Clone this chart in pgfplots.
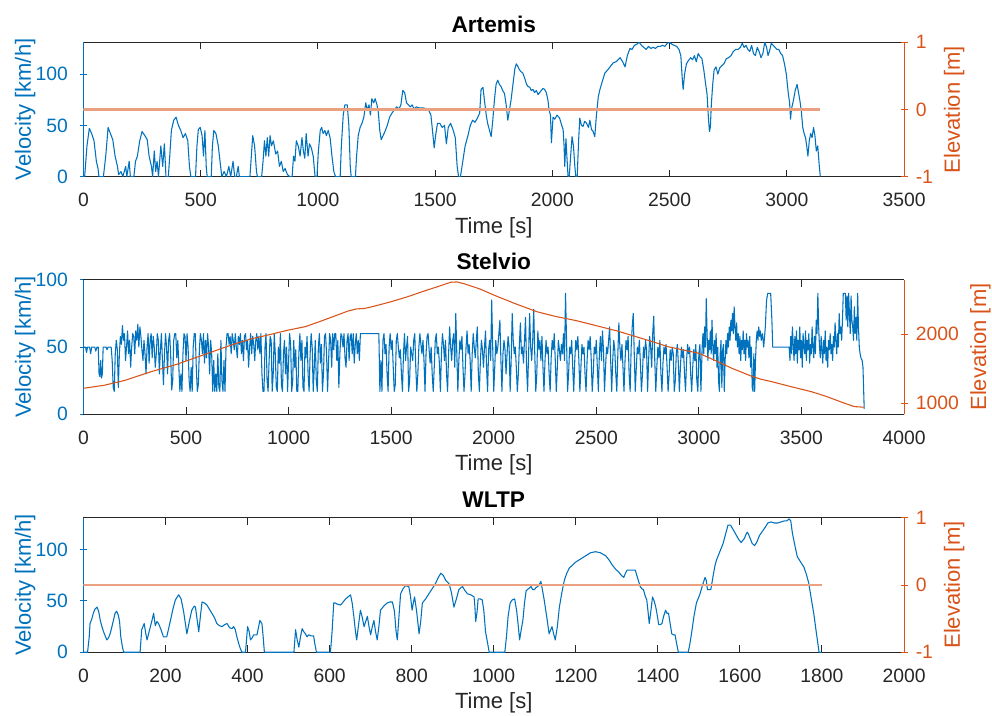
\documentclass[border=0pt]{standalone}
\usepackage{pgfplots}
\pgfplotsset{compat=1.18}
\usepackage{fontspec}
\setmainfont{Liberation Sans}
\definecolor{mblue}{rgb}{0,0.447,0.741}
\definecolor{morange}{rgb}{0.85,0.325,0.098}
\definecolor{mgray}{rgb}{0.15,0.15,0.15}
\newcommand{\tickfont}{\fontsize{14.5}{17}\selectfont}
\newcommand{\labfont}{\fontsize{16.5}{19}\selectfont}
\newcommand{\titfont}{\fontsize{17}{20}\selectfont\bfseries}
\pgfplotsset{
 common/.style={scale only axis, width=615.4pt, height=100.8pt, anchor=south west,
  tick align=inside, major tick length=5.25pt, scaled ticks=false,
  /pgf/number format/1000 sep={}, /pgf/number format/assume math mode=true, xmin=0},
 leftax/.style={common,
  axis x line=box, axis y line=left,
  x axis line style={-,draw=mgray,line width=0.75pt},
  y axis line style={-,draw=mblue,line width=0.75pt},
  xtick style={draw=mgray,line width=0.75pt}, ytick style={draw=mblue,line width=0.75pt},
  xticklabel style={font=\tickfont, text=mgray, anchor=base, inner sep=0pt, yshift=-22.5pt},
  yticklabel style={font=\tickfont, text=mblue, anchor=east, inner sep=0pt, xshift=-8.8pt},
  xlabel={Time [s]}, ylabel={Velocity [km/h]},
  every axis x label/.style={at={(axis description cs:0.5,0)}, anchor=base, yshift=-42.5pt, font=\labfont, text=mgray},
  every axis y label/.style={at={(axis description cs:-0.064,0.5)}, rotate=90, anchor=base, font=\labfont, text=mblue},
  every axis title shift=0pt,
  title style={at={(axis description cs:0.5,1)}, anchor=base, yshift=7.5pt, font=\titfont, text=black},
  ymin=0},
 rightax/.style={common,
  axis x line=none, axis y line=right,
  y axis line style={-,draw=morange,line width=0.75pt},
  ytick style={draw=morange,line width=0.75pt},
  yticklabel style={font=\tickfont, text=morange, anchor=west, inner sep=0pt, xshift=6pt},
  ylabel={Elevation [m]},
  every axis y label/.style={at={(axis description cs:#1,0.5)}, rotate=90, anchor=base, font=\labfont, text=morange}},
 vel/.style={mblue, line width=0.8pt, line join=round},
}
\begin{document}
\begin{tikzpicture}
\useasboundingbox (0,0) rectangle (744pt,537pt);
% ---------------- Artemis
\begin{axis}[leftax, at={(62.6pt,404.5pt)}, xmax=3500, ymax=131, xtick={0,500,...,3500}, ytick={0,50,100}, title={Artemis}]
\addplot[vel] table {
t v
0 0
5 0
15 30
25 47
35 42
45 35
55 15
62 8
66 0
85 0
95 20
105 48
115 42
125 36
135 20
145 10
150 2
160 5
168 0
180 10
185 0
195 15
200 0
215 0
222 15
230 20
240 35
250 44
262 40
272 36
280 20
290 10
295 0
302 25
308 5
314 15
320 0
330 30
338 10
345 32
352 0
362 0
368 20
375 45
385 55
395 58
405 50
415 45
425 38
435 42
445 35
452 10
458 0
478 0
484 30
490 46
498 48
506 40
512 20
518 45
524 8
528 0
545 0
550 30
556 45
565 42
575 30
585 10
590 0
600 5
610 0
620 10
628 0
638 15
645 0
652 0
660 10
665 0
710 0
716 20
722 40
730 30
738 5
742 0
760 0
766 15
772 35
778 20
784 38
790 20
796 40
802 30
810 35
820 22
828 25
836 10
844 15
852 5
860 8
870 2
880 0
890 0
896 20
902 15
908 35
916 30
924 20
932 38
938 25
944 18
950 42
958 20
964 32
972 28
980 20
988 0
996 0
1002 25
1010 45
1016 48
1022 42
1030 45
1036 40
1044 45
1052 38
1060 20
1068 5
1075 0
1095 0
1100 30
1108 60
1115 70
1125 70
1132 50
1138 10
1142 0
1160 0
1165 20
1172 40
1180 48
1188 52
1196 58
1204 72
1210 65
1218 70
1224 60
1230 76
1238 72
1244 76
1252 70
1258 62
1264 45
1270 36
1278 40
1286 44
1296 50
1306 58
1316 62
1326 65
1336 68
1346 66
1354 70
1362 84
1370 82
1378 72
1386 70
1394 68
1402 70
1410 66
1420 68
1430 67
1450 67
1470 66
1482 60
1490 42
1496 28
1502 40
1510 52
1520 52
1530 48
1540 50
1548 32
1556 48
1566 52
1576 46
1586 38
1594 10
1600 0
1608 0
1618 15
1628 30
1640 40
1650 50
1660 55
1670 53
1680 57
1690 62
1696 85
1704 87
1710 75
1718 60
1724 52
1732 45
1739 39
1746 55
1753 75
1760 90
1767 94
1774 90
1781 88
1788 84
1796 81
1803 70
1810 55
1817 65
1824 75
1832 90
1840 105
1846 110
1852 108
1860 104
1868 102
1874 101
1882 96
1890 90
1896 88
1904 87
1910 84
1917 85
1924 82
1932 84
1939 80
1946 82
1953 84
1960 86
1967 85
1974 82
1981 75
1986 65
1992 60
1996 33
2003 58
2010 56
2020 60
2031 57
2040 50
2046 46
2050 30
2053 10
2058 37
2062 20
2067 0
2072 0
2078 20
2084 39
2090 30
2096 10
2100 0
2106 0
2112 35
2117 57
2124 50
2131 49
2138 54
2146 52
2154 48
2160 55
2167 46
2174 44
2181 39
2188 60
2196 78
2203 85
2212 92
2224 101
2236 104
2246 107
2260 111
2272 112
2289 116
2300 112
2310 107
2320 118
2331 125
2340 124
2350 128
2360 129
2370 131
2380 128
2390 126
2400 124
2410 127
2420 125
2430 126
2440 125
2450 127
2460 127
2470 128
2480 127
2490 130
2500 131
2510 129
2520 128
2530 127
2540 124
2548 118
2554 96
2558 85
2564 100
2572 110
2580 113
2590 116
2598 114
2606 118
2614 112
2622 120
2630 117
2638 115
2646 104
2654 90
2660 80
2665 60
2670 44
2674 48
2678 70
2684 90
2690 104
2698 107
2706 100
2714 106
2722 108
2732 110
2742 115
2752 116
2762 118
2772 122
2782 124
2792 124
2802 126
2810 130
2818 126
2826 128
2834 124
2842 122
2850 128
2858 120
2866 118
2874 126
2882 122
2890 116
2898 120
2906 131
2914 126
2920 118
2926 122
2934 130
2942 128
2950 126
2958 124
2966 124
2974 120
2982 118
2990 110
2998 100
3006 82
3012 72
3016 56
3020 66
3028 74
3036 84
3044 90
3050 82
3056 74
3062 64
3068 48
3074 42
3080 38
3086 28
3090 20
3096 35
3102 42
3108 38
3114 48
3120 40
3126 25
3132 30
3138 12
3143 0
};
\end{axis}
\begin{axis}[rightax=1.068, at={(62.6pt,404.5pt)}, xmax=3500, ymin=-1, ymax=1, ytick={-1,0,1}]
\addplot[morange!55!white, line width=1.7pt] table {
t e
0 0
3143 0
};
\end{axis}
% ---------------- Stelvio
\begin{axis}[leftax, at={(62.6pt,226.3pt)}, xmax=4000, ymax=100, xtick={0,500,...,4000}, ytick={0,50,100}, title={Stelvio}]
\addplot[vel] table {
t v
0 50
10 50
15 46
20 50
30 50
35 45
40 50
55 50
60 47
66 50
72 50
76 30
80 28
84 40
88 27
92 30
96 50
110 50
115 48
120 50
135 50
140 40
145 20
150 17
155 45
160 55
165 48
170 20
175 45
180 58
185 52
190 66
195 55
200 60
205 40
210 50
215 62
220 45
225 55
230 35
235 50
240 60
245 58
250 45
255 62
260 55
265 67
270 50
275 65
280 58
285 48
290 40
295 55
300 45
305 30
310 50
315 60
320 38
325 55
330 60
335 42
340 58
345 50
350 35
355 45
360 60
365 55
370 30
375 48
380 60
385 40
390 22
395 45
400 60
405 50
410 30
415 55
420 60
425 45
430 18
435 25
440 55
445 60
450 60
455 42
460 55
465 35
470 17
475 30
480 17
485 45
490 60
495 58
500 40
505 60
510 50
515 25
520 17
525 35
530 17
535 50
540 60
545 60
550 35
555 17
560 22
565 48
570 60
575 55
580 45
585 60
590 38
595 55
600 42
605 60
610 50
615 30
620 55
625 45
630 17
635 40
640 17
645 30
650 17
655 45
660 20
665 17
670 55
675 25
680 17
685 40
690 17
695 50
700 60
705 60
710 52
715 58
720 45
725 60
730 55
735 48
740 60
745 50
750 42
755 58
760 52
765 60
770 45
775 55
780 40
785 58
790 60
795 48
800 55
805 35
810 50
815 60
820 45
825 58
830 52
835 40
840 55
845 60
850 48
855 58
860 45
865 60
870 30
875 17
880 17
885 50
890 60
895 25
900 17
905 40
910 58
915 55
920 17
925 30
930 60
935 45
940 20
945 17
950 50
955 38
960 60
965 22
970 17
975 45
980 55
985 30
990 50
995 17
1000 40
1005 60
1010 52
1015 17
1020 25
1025 55
1030 35
1035 48
1040 17
1045 17
1050 45
1055 60
1060 40
1065 55
1070 20
1075 17
1080 50
1085 42
1090 58
1095 30
1100 17
1105 45
1110 60
1115 50
1120 17
1125 35
1130 55
1135 25
1140 17
1145 50
1150 60
1155 38
1160 52
1165 17
1170 30
1175 58
1180 60
1185 45
1190 17
1195 40
1200 60
1205 55
1210 35
1215 60
1220 48
1225 60
1230 60
1235 40
1240 55
1245 20
1250 45
1255 60
1260 58
1265 50
1270 60
1275 42
1280 35
1285 55
1290 60
1295 40
1300 58
1305 60
1310 45
1315 60
1320 38
1325 52
1330 60
1335 45
1340 55
1345 40
1350 60
1440 60
1445 17
1450 40
1455 17
1460 55
1465 60
1470 45
1475 52
1480 30
1485 17
1490 50
1495 60
1500 48
1505 55
1510 35
1515 17
1520 22
1525 55
1530 60
1535 50
1540 42
1545 48
1550 30
1555 17
1560 45
1565 60
1570 40
1575 50
1580 58
1585 17
1590 25
1595 50
1600 45
1605 40
1610 55
1615 60
1620 35
1625 17
1630 30
1635 50
1640 60
1645 52
1650 45
1655 55
1660 40
1665 17
1670 45
1675 58
1680 60
1685 48
1690 38
1695 50
1700 30
1705 17
1710 35
1715 55
1720 60
1725 45
1730 50
1735 38
1740 17
1745 45
1750 60
1755 52
1760 40
1765 55
1770 30
1775 17
1780 45
1785 65
1790 50
1795 40
1800 55
1805 60
1810 35
1815 75
1820 45
1825 17
1830 40
1835 55
1840 48
1845 58
1850 35
1855 17
1860 30
1865 50
1870 62
1875 45
1880 52
1885 40
1890 17
1895 45
1900 60
1905 50
1910 42
1915 55
1920 65
1925 30
1930 17
1935 40
1940 55
1945 48
1950 35
1955 50
1960 62
1965 35
1970 17
1975 48
1980 55
1985 40
1990 85
1995 50
2000 17
2005 35
2010 55
2015 45
2020 50
2025 60
2030 70
2035 40
2040 17
2045 45
2050 55
2055 48
2060 30
2065 45
2070 58
2075 50
2080 17
2085 40
2090 75
2095 55
2100 45
2105 50
2110 35
2115 17
2120 30
2125 52
2130 68
2135 45
2140 50
2145 38
2150 55
2155 72
2160 35
2165 17
2170 45
2175 75
2180 50
2185 40
2190 55
2195 78
2200 45
2205 17
2210 30
2215 62
2220 48
2225 55
2230 40
2235 58
2240 35
2245 17
2250 40
2255 55
2260 45
2265 50
2270 30
2275 17
2280 42
2285 55
2290 48
2295 60
2300 40
2305 17
2310 35
2315 55
2320 48
2325 40
2330 52
2335 45
2340 60
2345 40
2350 90
2355 55
2360 17
2365 30
2370 50
2375 45
2380 55
2385 35
2390 17
2395 40
2400 55
2405 48
2410 58
2415 40
2420 17
2425 35
2430 52
2435 45
2440 50
2445 30
2450 17
2455 40
2460 55
2465 48
2470 58
2475 42
2480 17
2485 30
2490 50
2495 45
2500 55
2505 35
2510 17
2515 45
2520 58
2525 40
2530 62
2535 48
2540 17
2545 35
2550 50
2555 45
2560 55
2565 65
2570 40
2575 17
2580 40
2585 55
2590 48
2595 30
2600 17
2605 45
2610 68
2615 50
2620 40
2625 52
2630 35
2635 17
2640 40
2645 55
2650 48
2655 58
2660 30
2665 17
2670 50
2675 65
2680 75
2685 45
2690 17
2695 35
2700 50
2705 45
2710 55
2715 38
2720 17
2725 30
2730 50
2735 42
2740 55
2745 48
2750 17
2755 40
2760 58
2765 50
2770 35
2775 60
2780 73
2785 40
2790 17
2795 35
2800 50
2805 42
2810 55
2815 30
2820 17
2825 38
2830 50
2835 45
2840 52
2845 35
2850 17
2855 30
2860 48
2865 40
2870 50
2875 45
2880 17
2885 25
2890 45
2895 52
2900 38
2905 17
2910 35
2915 50
2920 42
2925 48
2930 30
2935 17
2940 40
2945 52
2950 45
2955 50
2960 30
2965 17
2970 35
2975 48
2980 40
2985 52
2990 25
2995 17
3000 45
3005 52
3010 17
3016 50
3020 60
3024 45
3028 65
3032 50
3036 86
3040 60
3044 40
3048 55
3052 48
3056 62
3060 45
3064 70
3068 50
3072 40
3076 55
3080 45
3084 60
3088 35
3092 50
3096 25
3100 17
3104 45
3108 55
3112 20
3116 48
3120 52
3124 17
3128 40
3132 55
3136 45
3140 60
3144 50
3148 65
3152 55
3156 70
3160 62
3164 75
3168 60
3172 80
3176 65
3180 55
3184 68
3188 50
3192 60
3196 45
3200 58
3204 40
3208 55
3212 48
3216 62
3220 45
3224 55
3228 40
3232 60
3236 50
3240 55
3244 42
3248 58
3252 35
3256 50
3260 20
3264 17
3268 45
3272 17
3276 40
3280 55
3284 62
3288 55
3292 65
3296 58
3300 62
3304 55
3310 60
3316 50
3324 65
3330 85
3336 90
3350 90
3356 70
3360 50
3366 50
3440 50
3444 40
3448 58
3452 45
3456 65
3460 52
3464 40
3468 58
3472 45
3476 62
3480 38
3484 55
3488 48
3492 65
3496 42
3500 55
3504 35
3508 60
3512 50
3516 45
3520 62
3524 40
3528 55
3532 48
3536 60
3540 38
3544 52
3548 45
3552 65
3556 50
3560 42
3564 58
3568 45
3572 70
3576 60
3580 90
3584 65
3588 50
3592 42
3596 58
3600 48
3604 38
3608 55
3612 45
3616 62
3620 40
3624 50
3628 35
3632 55
3636 48
3640 60
3644 45
3648 52
3652 40
3656 58
3660 50
3664 68
3668 55
3672 45
3676 60
3680 50
3684 75
3688 60
3692 65
3696 55
3700 70
3704 90
3714 90
3718 70
3722 88
3726 65
3730 90
3734 75
3738 60
3742 88
3746 70
3750 65
3754 55
3758 80
3762 60
3766 72
3770 55
3774 90
3778 65
3782 50
3786 45
3790 42
3796 40
3800 35
3806 4
};
\end{axis}
\begin{axis}[rightax=1.1, at={(62.6pt,226.3pt)}, xmax=4000, ymin=840, ymax=2790, ytick={1000,2000}]
\addplot[morange, line width=0.8pt] table {
t e
0 1217
100 1260
200 1330
330 1458
450 1560
560 1675
650 1770
735 1859
820 1936
900 1990
1000 2062
1080 2110
1150 2183
1220 2260
1290 2338
1330 2368
1370 2375
1420 2410
1500 2473
1580 2545
1650 2617
1720 2685
1790 2755
1820 2760
1860 2730
1935 2655
2000 2570
2100 2450
2210 2328
2300 2260
2400 2200
2500 2125
2600 2050
2700 1960
2774 1893
2850 1820
2920 1775
3000 1725
3080 1620
3161 1507
3250 1400
3300 1350
3355 1313
3450 1240
3548 1168
3620 1100
3710 1000
3758 951
3806 942
};
\end{axis}
% ---------------- WLTP
\begin{axis}[leftax, at={(62.6pt,47.8pt)}, xmax=2000, ymax=131, xtick={0,200,...,2000}, ytick={0,50,100}, title={WLTP}]
\addplot[vel] table {
t v
0 0
10 0
14 15
16 28
20 32
24 38
28 42
33 44
37 40
41 31
45 25
49 20
53 16
57 12
61 14
65 18
70 26
77 38
81 40
85 36
88 30
91 15
95 5
98 0
138 0
142 22
148 28
152 18
155 12
160 20
167 31
171 38
175 26
179 30
183 28
189 22
195 15
203 15
212 31
218 42
224 51
232 56
238 52
244 40
252 18
258 30
264 41
270 45
273 44
277 32
281 20
285 35
289 49
295 48
301 46
307 42
313 38
319 34
325 28
331 26
338 25
344 27
350 28
356 24
362 23
366 25
370 22
374 15
378 9
382 4
386 0
395 0
400 25
404 20
407 12
411 14
415 17
423 17
427 25
430 31
435 28
438 15
441 0
513 0
517 22
521 12
525 5
529 15
533 23
537 20
541 18
545 15
549 17
555 16
561 16
564 8
568 0
602 0
606 20
610 48
614 48
618 47
627 46
633 49
639 52
645 54
651 56
655 48
659 35
663 20
666 12
670 25
675 41
679 35
684 25
688 30
692 35
696 25
700 17
704 25
708 31
712 20
716 12
720 25
724 41
732 45
740 48
747 49
753 49
758 40
762 20
765 12
769 35
773 57
779 62
785 65
793 64
797 55
801 41
804 48
807 54
812 40
818 18
822 30
826 48
834 52
842 57
850 62
858 67
865 73
871 77
877 75
883 70
891 67
897 58
903 44
909 52
915 61
920 63
924 64
930 60
936 57
944 56
952 54
954 45
956 30
959 38
962 52
967 52
972 51
976 40
980 20
985 9
989 0
1027 0
1031 15
1035 35
1040 48
1045 51
1051 52
1056 40
1060 25
1063 12
1067 22
1071 31
1075 48
1079 60
1085 62
1091 64
1095 61
1099 61
1103 63
1107 64
1111 66
1115 69
1119 60
1123 51
1129 35
1135 18
1139 22
1142 25
1146 18
1150 12
1155 25
1160 44
1166 58
1172 70
1178 77
1184 82
1192 85
1200 88
1212 91
1224 94
1236 97
1248 98
1260 97
1273 94
1281 90
1289 85
1297 81
1305 78
1311 75
1317 73
1321 77
1325 80
1335 80
1345 80
1351 72
1357 64
1361 62
1365 61
1369 55
1373 51
1376 40
1379 28
1383 40
1387 54
1391 50
1395 44
1399 35
1402 27
1406 27
1410 28
1414 35
1419 41
1422 38
1426 38
1430 28
1434 18
1438 17
1442 17
1446 8
1450 0
1474 0
1478 8
1482 18
1488 35
1494 48
1502 56
1508 64
1515 73
1518 70
1521 61
1525 61
1529 61
1532 68
1535 75
1539 84
1543 90
1551 98
1559 106
1565 115
1571 124
1577 124
1583 120
1590 115
1597 110
1603 107
1607 109
1611 111
1615 115
1618 117
1621 115
1624 112
1630 106
1636 104
1642 108
1648 114
1655 118
1662 122
1668 126
1676 127
1684 126
1692 126
1700 127
1708 128
1714 128
1720 130
1724 128
1728 116
1734 104
1740 93
1748 88
1756 83
1762 76
1768 67
1774 52
1780 38
1786 20
1793 0
1800 0
};
\end{axis}
\begin{axis}[rightax=1.068, at={(62.6pt,47.8pt)}, xmax=2000, ymin=-1, ymax=1, ytick={-1,0,1}]
\addplot[morange!55!white, line width=1.7pt] table {
t e
0 0
1800 0
};
\end{axis}
\end{tikzpicture}
\end{document}
